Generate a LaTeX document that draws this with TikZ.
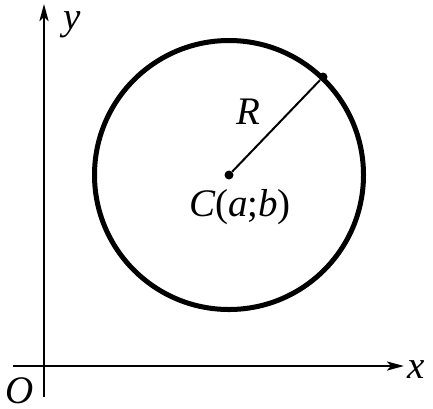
\documentclass[tikz,border=0pt]{standalone}
\usepackage{fontspec}
\setmainfont{Liberation Serif}
\usetikzlibrary{arrows.meta}
\begin{document}
\begin{tikzpicture}[x=1pt,y=-1pt,
  axis/.style={line width=2.8pt,-{Stealth[length=17pt,width=9pt,inset=4pt]}},
  lbl/.style={font=\fontsize{39}{44}\selectfont\itshape,anchor=base,inner sep=0pt},
  dotpt/.style={circle,fill=black,inner sep=0pt,minimum size=9pt}]
\useasboundingbox (0,0) rectangle (433,408);
\coordinate (xs) at (13,366);
\coordinate (xe) at (404,366);
\coordinate (ys) at (44,397);
\coordinate (ye) at (44,4);
\draw[axis] (xs) -- (xe);
\draw[axis] (ys) -- (ye);
\node[lbl] (xl) at (416,378) {x};
\node[lbl] (yl) at (72,29) {y};
\node[lbl] (ol) at (20,403) {O};
\draw[line width=5pt] (229,175) circle[radius=134.5];
\node[dotpt] (c) at (229,175) {};
\node[dotpt] (p) at (323,77) {};
\draw[line width=2pt] (c) -- (p);
\node[lbl] (rl) at (248,124) {R};
\node[lbl] (cl) at (240,216) {C\upshape(\itshape a\upshape;\itshape b\upshape)};
\end{tikzpicture}
\end{document}
